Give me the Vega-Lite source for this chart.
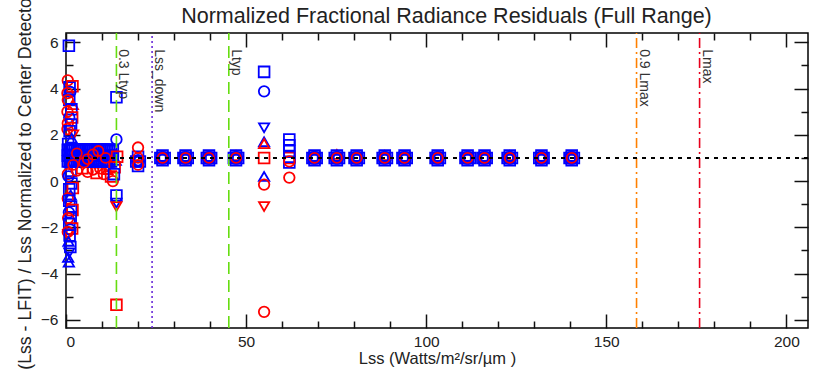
{
  "$schema": "https://vega.github.io/schema/vega-lite/v6.json",
  "width": 742,
  "height": 295,
  "autosize": {"type": "none"},
  "padding": {"left": 66, "top": 33, "right": 11, "bottom": 47},
  "background": "white",
  "datasets": {
    "pts": [
      {"x": 0.8, "y": 5.85, "c": "b", "s": "sq"}, {"x": 0.5, "y": 4.35, "c": "r", "s": "ci"}, {"x": 1.0, "y": 4.05, "c": "b", "s": "sq"}, {"x": 1.8, "y": 4.1, "c": "r", "s": "sq"},
      {"x": 1.2, "y": 3.85, "c": "b", "s": "ci"}, {"x": 0.4, "y": 3.8, "c": "r", "s": "ci"}, {"x": 0.9, "y": 3.5, "c": "b", "s": "sq"}, {"x": 0.5, "y": 3.5, "c": "r", "s": "ci"},
      {"x": 1.9, "y": 3.3, "c": "r", "s": "tu"}, {"x": 1.5, "y": 3.1, "c": "b", "s": "sq"}, {"x": 0.4, "y": 3.0, "c": "r", "s": "ci"}, {"x": 0.9, "y": 2.75, "c": "b", "s": "ci"},
      {"x": 1.7, "y": 2.75, "c": "r", "s": "sq"}, {"x": 0.5, "y": 2.5, "c": "r", "s": "ci"}, {"x": 1.4, "y": 2.45, "c": "b", "s": "sq"}, {"x": 0.4, "y": 2.25, "c": "r", "s": "ci"},
      {"x": 1.0, "y": 2.15, "c": "b", "s": "sq"}, {"x": 2.0, "y": 2.0, "c": "r", "s": "td"}, {"x": 1.6, "y": 1.85, "c": "b", "s": "tu"}, {"x": 0.6, "y": 1.6, "c": "b", "s": "sq"},
      {"x": 1.3, "y": 0.45, "c": "b", "s": "sq"}, {"x": 0.5, "y": 0.3, "c": "r", "s": "ci"}, {"x": 0.7, "y": 0.2, "c": "b", "s": "ci"}, {"x": 1.5, "y": -0.1, "c": "b", "s": "sq"},
      {"x": 1.9, "y": -0.3, "c": "r", "s": "sq"}, {"x": 0.9, "y": -0.35, "c": "b", "s": "sq"}, {"x": 1.3, "y": -0.6, "c": "b", "s": "tu"}, {"x": 0.5, "y": -0.75, "c": "r", "s": "ci"},
      {"x": 0.9, "y": -0.85, "c": "b", "s": "sq"}, {"x": 1.4, "y": -1.1, "c": "b", "s": "sq"}, {"x": 1.8, "y": -1.25, "c": "r", "s": "sq"}, {"x": 0.8, "y": -1.35, "c": "b", "s": "ci"},
      {"x": 1.3, "y": -1.6, "c": "b", "s": "sq"}, {"x": 0.6, "y": -1.6, "c": "r", "s": "ci"}, {"x": 0.9, "y": -1.85, "c": "b", "s": "sq"}, {"x": 1.7, "y": -2.05, "c": "r", "s": "sq"},
      {"x": 1.2, "y": -2.1, "c": "b", "s": "ci"}, {"x": 0.5, "y": -2.2, "c": "r", "s": "ci"}, {"x": 0.6, "y": -2.3, "c": "r", "s": "td"}, {"x": 1.0, "y": -2.35, "c": "b", "s": "sq"},
      {"x": 0.7, "y": -2.6, "c": "b", "s": "tu"}, {"x": 1.2, "y": -2.85, "c": "b", "s": "sq"}, {"x": 0.9, "y": -3.1, "c": "b", "s": "td"}, {"x": 0.6, "y": -3.3, "c": "b", "s": "tu"},
      {"x": 0.8, "y": -3.5, "c": "b", "s": "tu"},
      {"x": 3.0, "y": 0.45, "c": "r", "s": "ci"}, {"x": 4.5, "y": 0.55, "c": "r", "s": "sq"}, {"x": 6.0, "y": 0.4, "c": "r", "s": "ci"}, {"x": 7.5, "y": 0.5, "c": "r", "s": "ci"},
      {"x": 8.5, "y": 0.35, "c": "r", "s": "sq"}, {"x": 9.5, "y": 0.55, "c": "r", "s": "ci"}, {"x": 10.5, "y": 0.3, "c": "r", "s": "ci"}, {"x": 11.5, "y": 0.5, "c": "r", "s": "tu"},
      {"x": 12.5, "y": 0.2, "c": "r", "s": "sq"}, {"x": 13.0, "y": 0.0, "c": "r", "s": "ci"},
      {"x": 0.5, "y": 1.35, "c": "b", "s": "sq"}, {"x": 0.5, "y": 1.1, "c": "b", "s": "sq"}, {"x": 0.5, "y": 0.85, "c": "b", "s": "sq"},
      {"x": 1.0, "y": 1.35, "c": "b", "s": "sq"}, {"x": 1.0, "y": 1.1, "c": "b", "s": "sq"}, {"x": 1.0, "y": 0.85, "c": "b", "s": "sq"},
      {"x": 1.5, "y": 1.35, "c": "b", "s": "sq"}, {"x": 1.5, "y": 1.1, "c": "b", "s": "sq"}, {"x": 1.5, "y": 0.85, "c": "b", "s": "sq"},
      {"x": 2.0, "y": 1.35, "c": "b", "s": "sq"}, {"x": 2.0, "y": 1.1, "c": "b", "s": "sq"}, {"x": 2.0, "y": 0.85, "c": "b", "s": "sq"},
      {"x": 2.5, "y": 1.35, "c": "b", "s": "sq"}, {"x": 2.5, "y": 1.1, "c": "b", "s": "sq"}, {"x": 2.5, "y": 0.85, "c": "b", "s": "sq"},
      {"x": 3.0, "y": 1.35, "c": "b", "s": "sq"}, {"x": 3.0, "y": 1.1, "c": "b", "s": "sq"}, {"x": 3.0, "y": 0.85, "c": "b", "s": "sq"},
      {"x": 3.5, "y": 1.35, "c": "b", "s": "sq"}, {"x": 3.5, "y": 1.1, "c": "b", "s": "sq"}, {"x": 3.5, "y": 0.85, "c": "b", "s": "sq"},
      {"x": 4.0, "y": 1.35, "c": "b", "s": "sq"}, {"x": 4.0, "y": 1.1, "c": "b", "s": "sq"}, {"x": 4.0, "y": 0.85, "c": "b", "s": "sq"},
      {"x": 4.5, "y": 1.35, "c": "b", "s": "sq"}, {"x": 4.5, "y": 1.1, "c": "b", "s": "sq"}, {"x": 4.5, "y": 0.85, "c": "b", "s": "sq"},
      {"x": 5.0, "y": 1.35, "c": "b", "s": "sq"}, {"x": 5.0, "y": 1.1, "c": "b", "s": "sq"}, {"x": 5.0, "y": 0.85, "c": "b", "s": "sq"},
      {"x": 5.5, "y": 1.35, "c": "b", "s": "sq"}, {"x": 5.5, "y": 1.1, "c": "b", "s": "sq"}, {"x": 5.5, "y": 0.85, "c": "b", "s": "sq"},
      {"x": 6.0, "y": 1.35, "c": "b", "s": "sq"}, {"x": 6.0, "y": 1.1, "c": "b", "s": "sq"}, {"x": 6.0, "y": 0.85, "c": "b", "s": "sq"},
      {"x": 6.5, "y": 1.35, "c": "b", "s": "sq"}, {"x": 6.5, "y": 1.1, "c": "b", "s": "sq"}, {"x": 6.5, "y": 0.85, "c": "b", "s": "sq"},
      {"x": 7.0, "y": 1.35, "c": "b", "s": "sq"}, {"x": 7.0, "y": 1.1, "c": "b", "s": "sq"}, {"x": 7.0, "y": 0.85, "c": "b", "s": "sq"},
      {"x": 7.5, "y": 1.35, "c": "b", "s": "sq"}, {"x": 7.5, "y": 1.1, "c": "b", "s": "sq"}, {"x": 7.5, "y": 0.85, "c": "b", "s": "sq"},
      {"x": 8.0, "y": 1.35, "c": "b", "s": "sq"}, {"x": 8.0, "y": 1.1, "c": "b", "s": "sq"}, {"x": 8.0, "y": 0.85, "c": "b", "s": "sq"},
      {"x": 8.5, "y": 1.35, "c": "b", "s": "sq"}, {"x": 8.5, "y": 1.1, "c": "b", "s": "sq"}, {"x": 8.5, "y": 0.85, "c": "b", "s": "sq"},
      {"x": 9.0, "y": 1.35, "c": "b", "s": "sq"}, {"x": 9.0, "y": 1.1, "c": "b", "s": "sq"}, {"x": 9.0, "y": 0.85, "c": "b", "s": "sq"},
      {"x": 9.5, "y": 1.35, "c": "b", "s": "sq"}, {"x": 9.5, "y": 1.1, "c": "b", "s": "sq"}, {"x": 9.5, "y": 0.85, "c": "b", "s": "sq"},
      {"x": 10.0, "y": 1.35, "c": "b", "s": "sq"}, {"x": 10.0, "y": 1.1, "c": "b", "s": "sq"}, {"x": 10.0, "y": 0.85, "c": "b", "s": "sq"},
      {"x": 10.5, "y": 1.35, "c": "b", "s": "sq"}, {"x": 10.5, "y": 1.1, "c": "b", "s": "sq"}, {"x": 10.5, "y": 0.85, "c": "b", "s": "sq"},
      {"x": 11.0, "y": 1.35, "c": "b", "s": "sq"}, {"x": 11.0, "y": 1.1, "c": "b", "s": "sq"}, {"x": 11.0, "y": 0.85, "c": "b", "s": "sq"},
      {"x": 11.5, "y": 1.35, "c": "b", "s": "sq"}, {"x": 11.5, "y": 1.1, "c": "b", "s": "sq"}, {"x": 11.5, "y": 0.85, "c": "b", "s": "sq"},
      {"x": 12.0, "y": 1.35, "c": "b", "s": "sq"}, {"x": 12.0, "y": 1.1, "c": "b", "s": "sq"}, {"x": 12.0, "y": 0.85, "c": "b", "s": "sq"},
      {"x": 12.5, "y": 1.35, "c": "b", "s": "sq"}, {"x": 12.5, "y": 1.1, "c": "b", "s": "sq"}, {"x": 12.5, "y": 0.85, "c": "b", "s": "sq"},
      {"x": 13.0, "y": 1.3, "c": "b", "s": "sq"}, {"x": 13.0, "y": 1.05, "c": "b", "s": "sq"},
      {"x": 3, "y": 1.2, "c": "r", "s": "dt"}, {"x": 5, "y": 0.8, "c": "r", "s": "dt"}, {"x": 6, "y": 0.95, "c": "r", "s": "dt"}, {"x": 9, "y": 1.3, "c": "r", "s": "dt"}, {"x": 11, "y": 1.0, "c": "r", "s": "dt"}, {"x": 2, "y": 0.7, "c": "r", "s": "dt"}, {"x": 7.5, "y": 1.15, "c": "r", "s": "dt"},
      {"x": 14, "y": 3.62, "c": "b", "s": "sq"}, {"x": 14, "y": 1.8, "c": "b", "s": "ci"}, {"x": 14.2, "y": 1.05, "c": "r", "s": "sq"}, {"x": 13.8, "y": 0.9, "c": "b", "s": "tu"},
      {"x": 13.5, "y": 0.6, "c": "r", "s": "sq"}, {"x": 13.3, "y": 0.3, "c": "b", "s": "sq"}, {"x": 14, "y": -0.62, "c": "b", "s": "sq"}, {"x": 14, "y": -0.95, "c": "b", "s": "td"},
      {"x": 14, "y": -1.1, "c": "r", "s": "td"}, {"x": 14, "y": -5.35, "c": "r", "s": "sq"},
      {"x": 20, "y": 1.05, "c": "b", "s": "sq"}, {"x": 20.5, "y": 0.85, "c": "b", "s": "sq"}, {"x": 19.5, "y": 0.85, "c": "b", "s": "sq"}, {"x": 20, "y": 0.65, "c": "b", "s": "sq"},
      {"x": 20, "y": 0.9, "c": "b", "s": "ci"}, {"x": 19.7, "y": 0.85, "c": "b", "s": "dt"}, {"x": 20.3, "y": 0.85, "c": "b", "s": "dt"}, {"x": 20, "y": 1.45, "c": "r", "s": "ci"}, {"x": 20, "y": 1.0, "c": "r", "s": "dt"}, {"x": 20, "y": 0.7, "c": "r", "s": "dt"},
      {"x": 26.8, "y": 1.0, "c": "r", "s": "sq"}, {"x": 26.8, "y": 1.0, "c": "b", "s": "sq"}, {"x": 26.2, "y": 1.0, "c": "b", "s": "sq"}, {"x": 27.4, "y": 1.0, "c": "b", "s": "sq"}, {"x": 26.8, "y": 0.9, "c": "b", "s": "sq"}, {"x": 26.8, "y": 1.1, "c": "b", "s": "sq"}, {"x": 26.5, "y": 0.96, "c": "b", "s": "dt"}, {"x": 27.1, "y": 0.96, "c": "b", "s": "dt"}, {"x": 26.5, "y": 1.04, "c": "b", "s": "dt"}, {"x": 27.1, "y": 1.04, "c": "b", "s": "dt"}, {"x": 26.8, "y": 1.0, "c": "r", "s": "dt"},
      {"x": 33.2, "y": 1.0, "c": "r", "s": "sq"}, {"x": 33.2, "y": 1.0, "c": "b", "s": "sq"}, {"x": 32.6, "y": 1.0, "c": "b", "s": "sq"}, {"x": 33.8, "y": 1.0, "c": "b", "s": "sq"}, {"x": 33.2, "y": 0.9, "c": "b", "s": "sq"}, {"x": 33.2, "y": 1.1, "c": "b", "s": "sq"}, {"x": 32.9, "y": 0.96, "c": "b", "s": "dt"}, {"x": 33.5, "y": 0.96, "c": "b", "s": "dt"}, {"x": 32.9, "y": 1.04, "c": "b", "s": "dt"}, {"x": 33.5, "y": 1.04, "c": "b", "s": "dt"}, {"x": 33.2, "y": 1.0, "c": "r", "s": "dt"},
      {"x": 39.7, "y": 1.0, "c": "r", "s": "sq"}, {"x": 39.7, "y": 1.0, "c": "b", "s": "sq"}, {"x": 39.1, "y": 1.0, "c": "b", "s": "sq"}, {"x": 40.3, "y": 1.0, "c": "b", "s": "sq"}, {"x": 39.7, "y": 0.9, "c": "b", "s": "sq"}, {"x": 39.7, "y": 1.1, "c": "b", "s": "sq"}, {"x": 39.4, "y": 0.96, "c": "b", "s": "dt"}, {"x": 40.0, "y": 0.96, "c": "b", "s": "dt"}, {"x": 39.4, "y": 1.04, "c": "b", "s": "dt"}, {"x": 40.0, "y": 1.04, "c": "b", "s": "dt"}, {"x": 39.7, "y": 1.0, "c": "r", "s": "dt"},
      {"x": 47.2, "y": 1.1, "c": "r", "s": "tu"}, {"x": 47.2, "y": 1.0, "c": "b", "s": "sq"}, {"x": 46.6, "y": 1.0, "c": "b", "s": "sq"}, {"x": 47.8, "y": 1.0, "c": "b", "s": "sq"}, {"x": 47.2, "y": 0.9, "c": "b", "s": "sq"}, {"x": 47.2, "y": 1.1, "c": "b", "s": "sq"}, {"x": 46.9, "y": 0.96, "c": "b", "s": "dt"}, {"x": 47.5, "y": 0.96, "c": "b", "s": "dt"}, {"x": 46.9, "y": 1.04, "c": "b", "s": "dt"}, {"x": 47.5, "y": 1.04, "c": "b", "s": "dt"}, {"x": 47.2, "y": 1.0, "c": "r", "s": "dt"},
      {"x": 55, "y": 4.72, "c": "b", "s": "sq"}, {"x": 55, "y": 3.88, "c": "b", "s": "ci"}, {"x": 55, "y": 2.3, "c": "b", "s": "td"}, {"x": 55, "y": 1.7, "c": "b", "s": "tu"},
      {"x": 55, "y": 1.62, "c": "r", "s": "tu"}, {"x": 55, "y": 1.0, "c": "r", "s": "sq"}, {"x": 55, "y": 0.2, "c": "b", "s": "tu"}, {"x": 55, "y": -0.15, "c": "r", "s": "ci"},
      {"x": 55, "y": -1.1, "c": "r", "s": "td"}, {"x": 55, "y": -5.65, "c": "r", "s": "ci"},
      {"x": 62, "y": 1.8, "c": "b", "s": "sq"}, {"x": 62, "y": 1.55, "c": "b", "s": "sq"}, {"x": 62, "y": 1.3, "c": "b", "s": "sq"}, {"x": 62, "y": 1.0, "c": "r", "s": "sq"},
      {"x": 62, "y": 1.05, "c": "b", "s": "sq"}, {"x": 62, "y": 0.8, "c": "b", "s": "sq"}, {"x": 62, "y": 0.85, "c": "r", "s": "ci"}, {"x": 62, "y": 0.15, "c": "r", "s": "ci"},
      {"x": 69.0, "y": 1.0, "c": "r", "s": "sq"}, {"x": 69.0, "y": 1.0, "c": "b", "s": "sq"}, {"x": 68.4, "y": 1.0, "c": "b", "s": "sq"}, {"x": 69.6, "y": 1.0, "c": "b", "s": "sq"}, {"x": 69.0, "y": 0.9, "c": "b", "s": "sq"}, {"x": 69.0, "y": 1.1, "c": "b", "s": "sq"}, {"x": 68.7, "y": 0.96, "c": "b", "s": "dt"}, {"x": 69.3, "y": 0.96, "c": "b", "s": "dt"}, {"x": 68.7, "y": 1.04, "c": "b", "s": "dt"}, {"x": 69.3, "y": 1.04, "c": "b", "s": "dt"}, {"x": 69.0, "y": 1.0, "c": "r", "s": "dt"},
      {"x": 75.2, "y": 1.15, "c": "r", "s": "tu"}, {"x": 75.2, "y": 1.0, "c": "b", "s": "sq"}, {"x": 74.6, "y": 1.0, "c": "b", "s": "sq"}, {"x": 75.8, "y": 1.0, "c": "b", "s": "sq"}, {"x": 75.2, "y": 0.9, "c": "b", "s": "sq"}, {"x": 75.2, "y": 1.1, "c": "b", "s": "sq"}, {"x": 74.9, "y": 0.96, "c": "b", "s": "dt"}, {"x": 75.5, "y": 0.96, "c": "b", "s": "dt"}, {"x": 74.9, "y": 1.04, "c": "b", "s": "dt"}, {"x": 75.5, "y": 1.04, "c": "b", "s": "dt"}, {"x": 75.2, "y": 1.0, "c": "r", "s": "dt"},
      {"x": 80.7, "y": 1.0, "c": "r", "s": "sq"}, {"x": 80.7, "y": 1.0, "c": "b", "s": "sq"}, {"x": 80.1, "y": 1.0, "c": "b", "s": "sq"}, {"x": 81.3, "y": 1.0, "c": "b", "s": "sq"}, {"x": 80.7, "y": 0.9, "c": "b", "s": "sq"}, {"x": 80.7, "y": 1.1, "c": "b", "s": "sq"}, {"x": 80.4, "y": 0.96, "c": "b", "s": "dt"}, {"x": 81.0, "y": 0.96, "c": "b", "s": "dt"}, {"x": 80.4, "y": 1.04, "c": "b", "s": "dt"}, {"x": 81.0, "y": 1.04, "c": "b", "s": "dt"}, {"x": 80.7, "y": 1.0, "c": "r", "s": "dt"},
      {"x": 88.5, "y": 1.1, "c": "r", "s": "tu"}, {"x": 88.5, "y": 1.0, "c": "b", "s": "sq"}, {"x": 87.9, "y": 1.0, "c": "b", "s": "sq"}, {"x": 89.1, "y": 1.0, "c": "b", "s": "sq"}, {"x": 88.5, "y": 0.9, "c": "b", "s": "sq"}, {"x": 88.5, "y": 1.1, "c": "b", "s": "sq"}, {"x": 88.2, "y": 0.96, "c": "b", "s": "dt"}, {"x": 88.8, "y": 0.96, "c": "b", "s": "dt"}, {"x": 88.2, "y": 1.04, "c": "b", "s": "dt"}, {"x": 88.8, "y": 1.04, "c": "b", "s": "dt"}, {"x": 88.5, "y": 1.0, "c": "r", "s": "dt"},
      {"x": 94.0, "y": 1.0, "c": "r", "s": "sq"}, {"x": 94.0, "y": 1.0, "c": "b", "s": "sq"}, {"x": 93.4, "y": 1.0, "c": "b", "s": "sq"}, {"x": 94.6, "y": 1.0, "c": "b", "s": "sq"}, {"x": 94.0, "y": 0.9, "c": "b", "s": "sq"}, {"x": 94.0, "y": 1.1, "c": "b", "s": "sq"}, {"x": 93.7, "y": 0.96, "c": "b", "s": "dt"}, {"x": 94.3, "y": 0.96, "c": "b", "s": "dt"}, {"x": 93.7, "y": 1.04, "c": "b", "s": "dt"}, {"x": 94.3, "y": 1.04, "c": "b", "s": "dt"}, {"x": 94.0, "y": 1.0, "c": "r", "s": "dt"},
      {"x": 103.2, "y": 1.0, "c": "r", "s": "sq"}, {"x": 103.2, "y": 1.0, "c": "b", "s": "sq"}, {"x": 102.6, "y": 1.0, "c": "b", "s": "sq"}, {"x": 103.8, "y": 1.0, "c": "b", "s": "sq"}, {"x": 103.2, "y": 0.9, "c": "b", "s": "sq"}, {"x": 103.2, "y": 1.1, "c": "b", "s": "sq"}, {"x": 102.9, "y": 0.96, "c": "b", "s": "dt"}, {"x": 103.5, "y": 0.96, "c": "b", "s": "dt"}, {"x": 102.9, "y": 1.04, "c": "b", "s": "dt"}, {"x": 103.5, "y": 1.04, "c": "b", "s": "dt"}, {"x": 103.2, "y": 1.0, "c": "r", "s": "dt"},
      {"x": 111.5, "y": 1.0, "c": "r", "s": "sq"}, {"x": 111.5, "y": 1.0, "c": "b", "s": "sq"}, {"x": 110.9, "y": 1.0, "c": "b", "s": "sq"}, {"x": 112.1, "y": 1.0, "c": "b", "s": "sq"}, {"x": 111.5, "y": 0.9, "c": "b", "s": "sq"}, {"x": 111.5, "y": 1.1, "c": "b", "s": "sq"}, {"x": 111.2, "y": 0.96, "c": "b", "s": "dt"}, {"x": 111.8, "y": 0.96, "c": "b", "s": "dt"}, {"x": 111.2, "y": 1.04, "c": "b", "s": "dt"}, {"x": 111.8, "y": 1.04, "c": "b", "s": "dt"}, {"x": 111.5, "y": 1.0, "c": "r", "s": "dt"},
      {"x": 116.2, "y": 1.0, "c": "r", "s": "sq"}, {"x": 116.2, "y": 1.0, "c": "b", "s": "sq"}, {"x": 115.6, "y": 1.0, "c": "b", "s": "sq"}, {"x": 116.8, "y": 1.0, "c": "b", "s": "sq"}, {"x": 116.2, "y": 0.9, "c": "b", "s": "sq"}, {"x": 116.2, "y": 1.1, "c": "b", "s": "sq"}, {"x": 115.9, "y": 0.96, "c": "b", "s": "dt"}, {"x": 116.5, "y": 0.96, "c": "b", "s": "dt"}, {"x": 115.9, "y": 1.04, "c": "b", "s": "dt"}, {"x": 116.5, "y": 1.04, "c": "b", "s": "dt"}, {"x": 116.2, "y": 1.0, "c": "r", "s": "dt"},
      {"x": 123.2, "y": 1.1, "c": "r", "s": "tu"}, {"x": 123.2, "y": 1.0, "c": "b", "s": "sq"}, {"x": 122.6, "y": 1.0, "c": "b", "s": "sq"}, {"x": 123.8, "y": 1.0, "c": "b", "s": "sq"}, {"x": 123.2, "y": 0.9, "c": "b", "s": "sq"}, {"x": 123.2, "y": 1.1, "c": "b", "s": "sq"}, {"x": 122.9, "y": 0.96, "c": "b", "s": "dt"}, {"x": 123.5, "y": 0.96, "c": "b", "s": "dt"}, {"x": 122.9, "y": 1.04, "c": "b", "s": "dt"}, {"x": 123.5, "y": 1.04, "c": "b", "s": "dt"}, {"x": 123.2, "y": 1.0, "c": "r", "s": "dt"},
      {"x": 132.0, "y": 1.0, "c": "r", "s": "sq"}, {"x": 132.0, "y": 1.0, "c": "b", "s": "sq"}, {"x": 131.4, "y": 1.0, "c": "b", "s": "sq"}, {"x": 132.6, "y": 1.0, "c": "b", "s": "sq"}, {"x": 132.0, "y": 0.9, "c": "b", "s": "sq"}, {"x": 132.0, "y": 1.1, "c": "b", "s": "sq"}, {"x": 131.7, "y": 0.96, "c": "b", "s": "dt"}, {"x": 132.3, "y": 0.96, "c": "b", "s": "dt"}, {"x": 131.7, "y": 1.04, "c": "b", "s": "dt"}, {"x": 132.3, "y": 1.04, "c": "b", "s": "dt"}, {"x": 132.0, "y": 1.0, "c": "r", "s": "dt"},
      {"x": 140.4, "y": 1.0, "c": "r", "s": "sq"}, {"x": 140.4, "y": 1.0, "c": "b", "s": "sq"}, {"x": 139.8, "y": 1.0, "c": "b", "s": "sq"}, {"x": 141.0, "y": 1.0, "c": "b", "s": "sq"}, {"x": 140.4, "y": 0.9, "c": "b", "s": "sq"}, {"x": 140.4, "y": 1.1, "c": "b", "s": "sq"}, {"x": 140.1, "y": 0.96, "c": "b", "s": "dt"}, {"x": 140.7, "y": 0.96, "c": "b", "s": "dt"}, {"x": 140.1, "y": 1.04, "c": "b", "s": "dt"}, {"x": 140.7, "y": 1.04, "c": "b", "s": "dt"}, {"x": 140.4, "y": 1.0, "c": "r", "s": "dt"}
    ],
    "vl": [
      {"x": 14.0, "name": "0.3 Ltyp"},
      {"x": 23.9, "name": "Lss_down"},
      {"x": 45.2, "name": "Ltyp"},
      {"x": 158.4, "name": "0.9 Lmax"},
      {"x": 175.9, "name": "Lmax"}
    ],
    "one": [{"k": 1}]
  },
  "layer": [
    {
      "data": {"name": "pts"},
      "mark": {"type": "point", "filled": false, "strokeWidth": 1.8, "opacity": 1},
      "encoding": {
        "x": {"field": "x", "type": "quantitative", "scale": {"domain": [0, 206], "nice": false, "zero": false},
          "axis": {"orient": "bottom", "values": [0, 50, 100, 150, 200], "tickSize": -14, "labelFontSize": 15.5, "labelPadding": 20, "title": "Lss (Watts/m²/sr/µm )", "titleFontSize": 16.5, "titlePadding": 1}},
        "y": {"field": "y", "type": "quantitative", "scale": {"domain": [-6.35, 6.4], "nice": false, "zero": false},
          "axis": {"orient": "left", "values": [-6, -4, -2, 0, 2, 4, 6], "tickSize": -14, "labelFontSize": 15.5, "labelPadding": 22, "title": "(Lss - LFIT) / Lss Normalized to Center Detector", "titleFontSize": 17.7, "titlePadding": 6}},
        "color": {"field": "c", "type": "nominal", "scale": {"domain": ["r", "b"], "range": ["#ff0000", "#0000ff"]}, "legend": null},
        "shape": {"field": "s", "type": "nominal", "scale": {"domain": ["sq", "ci", "tu", "td", "dt"], "range": ["square", "circle", "triangle-up", "triangle-down", "circle"]}, "legend": null},
        "size": {"field": "s", "type": "ordinal", "scale": {"domain": ["sq", "ci", "tu", "td", "dt"], "range": [115, 100, 125, 125, 5]}, "legend": null}
      }
    },
    {
      "data": {"name": "vl"},
      "mark": {"type": "rule", "strokeWidth": 1.6},
      "encoding": {
        "x": {"field": "x", "type": "quantitative", "axis": {"orient": "bottom", "values": [10, 20, 30, 40, 60, 70, 80, 90, 110, 120, 130, 140, 160, 170, 180, 190], "tickSize": -7, "labels": false, "title": null}},
        "y": {"datum": -6.35, "type": "quantitative", "axis": {"orient": "left", "values": [-5, -3, -1, 1, 3, 5], "tickSize": -7, "labels": false, "title": null}},
        "y2": {"datum": 6.4},
        "stroke": {"field": "name", "type": "nominal", "scale": {"domain": ["0.3 Ltyp", "Lss_down", "Ltyp", "0.9 Lmax", "Lmax"], "range": ["#66dd11", "#6a2ad8", "#66dd11", "#ff8000", "#e8001c"]}, "legend": null},
        "strokeDash": {"field": "name", "type": "nominal", "scale": {"domain": ["0.3 Ltyp", "Lss_down", "Ltyp", "0.9 Lmax", "Lmax"], "range": [[12, 6], [2, 3], [12, 6], [10, 4, 2, 4], [10, 4, 2, 4]]}, "legend": null}
      }
    },
    {
      "data": {"name": "one"},
      "mark": {"type": "rule", "strokeWidth": 2, "strokeDash": [4, 5], "color": "black"},
      "encoding": {
        "x": {"datum": 0, "type": "quantitative", "axis": {"orient": "top", "values": [0, 50, 100, 150, 200], "tickSize": -14, "labels": false, "title": "Normalized Fractional Radiance Residuals (Full Range)", "titleFontSize": 21.5, "titlePadding": 5, "titleX": 380}},
        "x2": {"datum": 206},
        "y": {"datum": 1, "type": "quantitative", "axis": {"orient": "right", "values": [-6, -4, -2, 0, 2, 4, 6], "tickSize": -14, "labels": false, "title": null}}
      }
    },
    {
      "data": {"name": "vl"},
      "mark": {"type": "text", "angle": 90, "align": "left", "baseline": "bottom", "fontSize": 14, "font": "Liberation Sans", "color": "#333"},
      "encoding": {
        "x": {"field": "x", "type": "quantitative", "axis": {"orient": "top", "values": [10, 20, 30, 40, 60, 70, 80, 90, 110, 120, 130, 140, 160, 170, 180, 190], "tickSize": -7, "labels": false, "title": null}},
        "y": {"datum": 5.7, "type": "quantitative", "axis": {"orient": "right", "values": [-5, -3, -1, 1, 3, 5], "tickSize": -7, "labels": false, "title": null}},
        "text": {"field": "name", "type": "nominal"}
      }
    }
  ],
  "resolve": {"axis": {"x": "independent", "y": "independent"}},
  "config": {
    "view": {"stroke": "black", "strokeWidth": 1.5},
    "axis": {"domain": false, "grid": false, "labelFont": "Liberation Sans", "titleFont": "Liberation Sans", "labelColor": "#222", "titleColor": "#222", "tickColor": "#111", "tickWidth": 1.5, "titleFontWeight": "normal"}
  }
}
